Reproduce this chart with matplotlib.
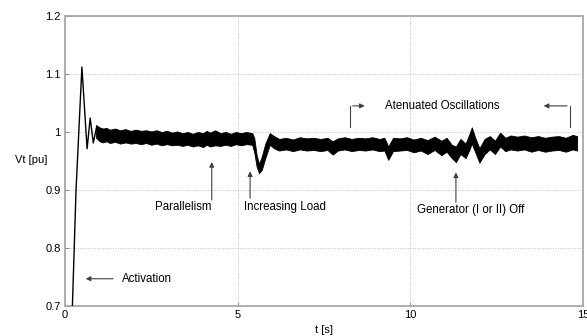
import matplotlib
matplotlib.use("Agg")
import matplotlib.pyplot as plt

plt.rcParams['font.family'] = ['Liberation Sans', 'DejaVu Sans']

# Start-up transient of the terminal voltage (single trace)
t_start = [0.21, 0.32, 0.49, 0.64, 0.73, 0.82, 0.92, 1.00]
v_start = [0.69, 0.90, 1.112, 0.971, 1.024, 0.981, 1.010, 0.995]

# Envelope of the fast oscillation band (upper / lower limits)
t_env = [0.90, 1.00, 1.10, 1.20, 1.30, 1.45, 1.60, 1.75, 1.90, 2.05,
         2.20, 2.35, 2.50, 2.65, 2.80, 2.95, 3.10, 3.25, 3.40, 3.55,
         3.70, 3.85, 4.00, 4.10, 4.20, 4.35, 4.50, 4.65, 4.80, 4.95,
         5.10, 5.25, 5.42,
         5.48, 5.55, 5.62, 5.70, 5.80, 5.93, 6.05, 6.20, 6.40, 6.60,
         6.80, 7.00, 7.20, 7.40, 7.60, 7.75, 7.90, 8.10, 8.30, 8.50,
         8.70, 8.90, 9.10, 9.25, 9.36, 9.50, 9.70, 9.90, 10.10, 10.30,
         10.50, 10.70, 10.90, 11.05, 11.20, 11.32, 11.45, 11.60, 11.70, 11.78,
         11.88, 12.00, 12.15, 12.30, 12.45, 12.60, 12.75, 12.90, 13.10, 13.30,
         13.50, 13.70, 13.90, 14.10, 14.30, 14.50, 14.70, 14.83]
v_upper = [1.012, 1.008, 1.006, 1.007, 1.004, 1.006, 1.003, 1.005, 1.002, 1.004,
           1.002, 1.003, 1.001, 1.003, 1.000, 1.002, 0.999, 1.001, 0.998, 1.000,
           0.997, 1.000, 0.998, 1.002, 0.999, 1.003, 0.998, 1.000, 0.997, 1.000,
           0.998, 1.000, 0.998,
           0.990, 0.960, 0.945, 0.958, 0.980, 0.998, 0.993, 0.988, 0.990, 0.987,
           0.991, 0.989, 0.990, 0.988, 0.990, 0.984, 0.989, 0.991, 0.988, 0.990,
           0.989, 0.991, 0.988, 0.990, 0.975, 0.990, 0.989, 0.991, 0.987, 0.990,
           0.986, 0.992, 0.985, 0.990, 0.978, 0.975, 0.988, 0.980, 0.995, 1.008,
           0.990, 0.972, 0.988, 0.993, 0.985, 0.999, 0.990, 0.994, 0.992, 0.994,
           0.991, 0.993, 0.990, 0.992, 0.993, 0.990, 0.995, 0.993]
v_lower = [0.990, 0.984, 0.982, 0.984, 0.981, 0.983, 0.980, 0.982, 0.980, 0.981,
           0.979, 0.981, 0.978, 0.980, 0.977, 0.979, 0.977, 0.978, 0.976, 0.978,
           0.975, 0.977, 0.974, 0.978, 0.975, 0.977, 0.976, 0.978, 0.976, 0.979,
           0.977, 0.979, 0.978,
           0.965, 0.940, 0.929, 0.935, 0.955, 0.978, 0.972, 0.968, 0.970, 0.967,
           0.970, 0.968, 0.969, 0.967, 0.969, 0.961, 0.968, 0.970, 0.967, 0.969,
           0.968, 0.970, 0.967, 0.968, 0.952, 0.967, 0.968, 0.969, 0.965, 0.968,
           0.962, 0.969, 0.960, 0.966, 0.955, 0.948, 0.962, 0.955, 0.968, 0.980,
           0.965, 0.947, 0.962, 0.970, 0.962, 0.975, 0.967, 0.970, 0.968, 0.970,
           0.966, 0.969, 0.966, 0.968, 0.969, 0.966, 0.970, 0.968]

x_ticks = [0, 5, 10, 15]
y_ticks = [0.7, 0.8, 0.9, 1.0, 1.1, 1.2]
y_tick_labels = ['0.7', '0.8', '0.9', '1', '1.1', '1.2']

fig = plt.figure(figsize=(5.87, 3.36), dpi=100)
ax = fig.add_axes([0.1107, 0.0893, 0.8825, 0.8631])
ax.set_axisbelow(True)

ax.plot(t_start, v_start, color='black', lw=1.0, zorder=3)
ax.fill_between(t_env, v_lower, v_upper, color='black', lw=0.6,
                edgecolor='black', zorder=3)

ax.set_xlim(0, 15)
ax.set_ylim(0.7, 1.2)
ax.set_xticks(x_ticks)
ax.set_yticks(y_ticks)
ax.set_yticklabels(y_tick_labels)
ax.grid(True, color='#b0b0b0', linestyle=(0, (1, 2)), lw=0.6)
for s in ax.spines.values():
    s.set_color('#a8a8a8')
    s.set_linewidth(1.3)
ax.tick_params(direction='in', length=3, color='#909090', labelsize=8, pad=3)

ax.text(-0.034, 0.503, 'Vt [pu]', transform=ax.transAxes, ha='right', va='center',
        fontsize=8)
ax.text(0.5, -0.083, 't [s]', transform=ax.transAxes, ha='center', va='center',
        fontsize=8)

arrow = dict(arrowstyle='-|>', color='#404040', lw=0.8, mutation_scale=7)
fs = 8.3

# Activation
ax.annotate('', xy=(0.52, 0.747), xytext=(1.47, 0.747), arrowprops=arrow)
ax.text(1.64, 0.747, 'Activation', fontsize=fs, va='center', ha='left')

# Parallelism
ax.annotate('', xy=(4.25, 0.953), xytext=(4.25, 0.878), arrowprops=arrow)
ax.text(4.25, 0.871, 'Parallelism', fontsize=fs, va='center', ha='right')

# Increasing Load
ax.annotate('', xy=(5.36, 0.937), xytext=(5.36, 0.881), arrowprops=arrow)
ax.text(5.18, 0.871, 'Increasing Load', fontsize=fs, va='center', ha='left')

# Generator off
ax.annotate('', xy=(11.32, 0.935), xytext=(11.32, 0.874), arrowprops=arrow)
ax.text(10.20, 0.865, 'Generator (I or II) Off', fontsize=fs, va='center', ha='left')

# Attenuated oscillations brackets
ax.plot([8.25, 8.25], [1.008, 1.045], color='#404040', lw=0.8)
ax.annotate('', xy=(8.76, 1.045), xytext=(8.25, 1.045), arrowprops=arrow)
ax.plot([14.62, 14.62], [1.009, 1.045], color='#404040', lw=0.8)
ax.annotate('', xy=(13.78, 1.045), xytext=(14.62, 1.045), arrowprops=arrow)
ax.text(9.28, 1.045, 'Atenuated Oscillations', fontsize=fs, va='center', ha='left')

fig.savefig('out.png', dpi=100)
